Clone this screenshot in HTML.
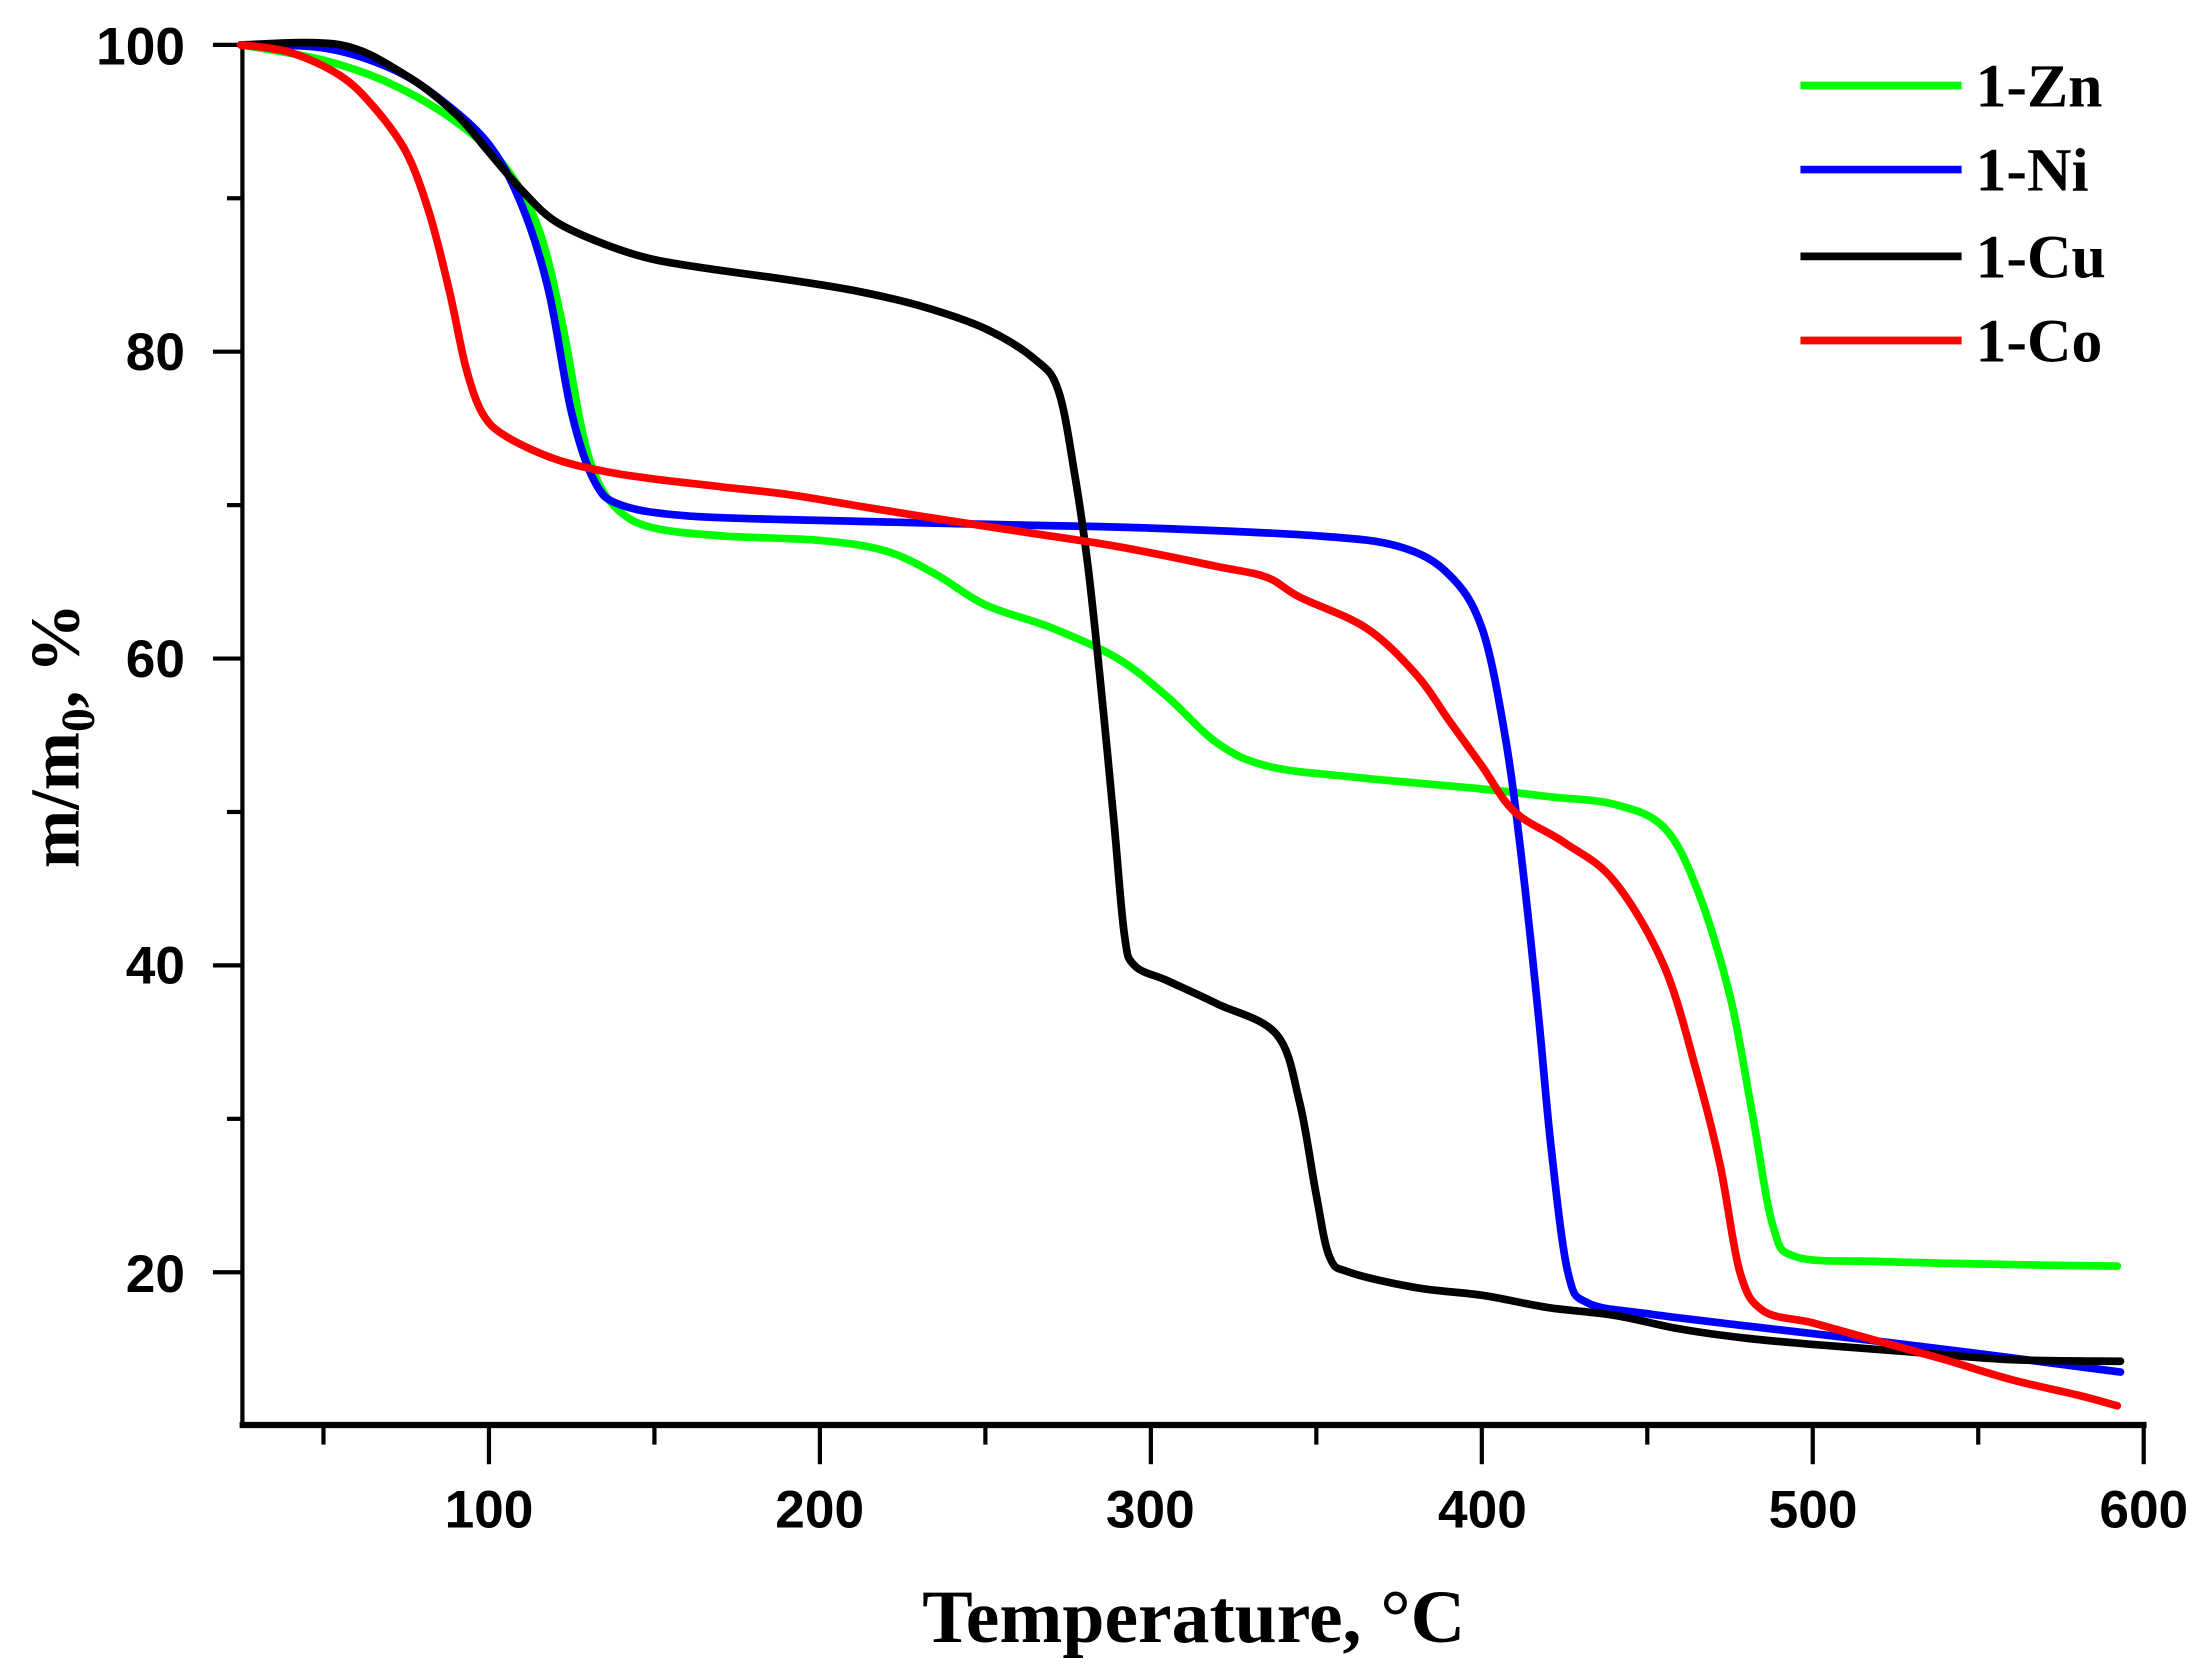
<!DOCTYPE html>
<html><head><meta charset="utf-8"><style>
html,body{margin:0;padding:0;background:#fff}
svg{display:block}
</style></head><body>
<svg id="s" width="2197" height="1673" viewBox="0 0 1568 1194" preserveAspectRatio="none" xmlns="http://www.w3.org/2000/svg">
<g id="axes" stroke="#000" stroke-width="3" fill="none">
<line x1="173" y1="30" x2="173" y2="1018"/>
<line x1="171" y1="1017" x2="1532" y2="1017" stroke-width="4.5"/>
</g>
<g id="ticks" stroke="#000" stroke-width="3"></g>
<g font-family="Liberation Sans, Arial, sans-serif" font-weight="bold" font-size="38" fill="#000">
<text x="132" y="46" text-anchor="end">100</text>
<text x="132" y="264" text-anchor="end">80</text>
<text x="132" y="483" text-anchor="end">60</text>
<text x="132" y="702" text-anchor="end">40</text>
<text x="132" y="922" text-anchor="end">20</text>
<text x="349" y="1090" text-anchor="middle">100</text>
<text x="585" y="1090" text-anchor="middle">200</text>
<text x="821" y="1090" text-anchor="middle">300</text>
<text x="1058" y="1090" text-anchor="middle">400</text>
<text x="1294" y="1090" text-anchor="middle">500</text>
<text x="1530" y="1090" text-anchor="middle">600</text>
</g>
<text x="852" y="1172" text-anchor="middle" font-family="Liberation Serif, Times New Roman, serif" font-weight="bold" font-size="54">Temperature, °C</text>
<text transform="translate(56,525) rotate(-90)" text-anchor="middle" font-family="Liberation Serif, Times New Roman, serif" font-weight="bold" font-size="50">m/m<tspan font-size="34" dy="11">0</tspan><tspan dy="-11">, %</tspan></text>
<g id="curves" fill="none" stroke-width="5.5" stroke-linejoin="round" stroke-linecap="round"></g>
<g stroke-width="5.5">
<line x1="1285" y1="61" x2="1400" y2="61" stroke="#00ff00"/>
<line x1="1285" y1="121" x2="1400" y2="121" stroke="#0000ff"/>
<line x1="1285" y1="183" x2="1400" y2="183" stroke="#000"/>
<line x1="1285" y1="243" x2="1400" y2="243" stroke="#ff0000"/>
</g>
<g font-family="Liberation Serif, Times New Roman, serif" font-weight="bold" font-size="44" fill="#000">
<text x="1410" y="76">1-Zn</text>
<text x="1410" y="136">1-Ni</text>
<text x="1410" y="198">1-Cu</text>
<text x="1410" y="258">1-Co</text>
</g>
</svg>
<script>
var NS="http://www.w3.org/2000/svg";
function X(t){return 173+(t-25.5)*2.362}
function Y(v){return 32+(100-v)*10.95}
var tk=document.getElementById("ticks");
function ln(x1,y1,x2,y2){var l=document.createElementNS(NS,"line");l.setAttribute("x1",x1);l.setAttribute("y1",y1);l.setAttribute("x2",x2);l.setAttribute("y2",y2);tk.appendChild(l);}
for(var v=20;v<=100;v+=20){ln(152,Y(v),173,Y(v));}
for(var v=30;v<=90;v+=20){ln(162,Y(v),173,Y(v));}
for(var t=100;t<=600;t+=100){ln(X(t),1017,X(t),1045);}
for(var t=50;t<=550;t+=100){ln(X(t),1017,X(t),1031);}
var data={
"#00ff00":[[25,100],[50,99],[70,97.5],[90,95],[105,92],[115,88],[122,82],[128,75],[133,71.5],[140,69.5],[150,68.5],[170,68],[200,67.7],[220,67],[235,65.5],[250,63.5],[270,62],[290,60],[305,57.5],[320,54.5],[335,53],[360,52.3],[400,51.5],[420,51],[440,50.5],[455,49],[465,45],[475,38],[482,30],[488,23],[495,21],[520,20.7],[560,20.5],[592,20.4]],
"#0000ff":[[25,100],[50,99.8],[70,98.5],[85,96.5],[100,93.5],[110,89.5],[118,84],[125,76],[132,71.5],[140,70],[160,69.3],[200,69],[260,68.7],[300,68.5],[350,68],[375,67.3],[390,65.5],[400,62],[407,55],[412,47],[417,37],[421,28],[426,20],[432,18],[450,17.3],[480,16.5],[520,15.5],[550,14.7],[593,13.5]],
"#000000":[[25,100],[55,100],[75,98],[90,95.5],[100,93],[110,90.5],[120,88.5],[135,87],[150,86],[170,85.3],[190,84.7],[210,84],[230,83],[250,81.5],[265,79.5],[272,77.5],[277,72],[281,66],[285,58],[289,49],[292,42],[295,40],[305,39],[320,37.5],[338,35.5],[345,31],[350,25],[354,21],[360,20],[380,19],[400,18.5],[420,17.7],[440,17.2],[460,16.3],[480,15.7],[500,15.3],[530,14.8],[560,14.3],[593,14.2]],
"#ff0000":[[25,100],[40,99.5],[55,98],[65,96],[75,93],[82,89],[88,84],[93,79],[98,76],[105,74.5],[120,73],[135,72.2],[150,71.7],[170,71.2],[190,70.7],[210,70],[230,69.3],[260,68.3],[290,67.3],[320,66],[335,65.3],[345,64],[365,62],[380,59],[390,56],[400,53],[410,50],[425,48],[440,45.5],[455,40],[465,33],[472,27],[478,20],[485,17.5],[500,16.7],[520,15.5],[540,14.3],[560,13],[580,12],[592,11.3]]
};
var g=document.getElementById("curves");
for(var c in data){
 var P=data[c].map(function(d){return [X(d[0]),Y(d[1])]});
 var s="M"+P[0][0].toFixed(1)+","+P[0][1].toFixed(1);
 for(var i=0;i<P.length-1;i++){
  var p0=P[i-1]||P[i],p1=P[i],p2=P[i+1],p3=P[i+2]||P[i+1];
  var c1=[p1[0]+(p2[0]-p0[0])/6,p1[1]+(p2[1]-p0[1])/6];
  var c2=[p2[0]-(p3[0]-p1[0])/6,p2[1]-(p3[1]-p1[1])/6];
  s+=" C"+c1[0].toFixed(1)+","+c1[1].toFixed(1)+" "+c2[0].toFixed(1)+","+c2[1].toFixed(1)+" "+p2[0].toFixed(1)+","+p2[1].toFixed(1);
 }
 var p=document.createElementNS(NS,"path");
 p.setAttribute("d",s);p.setAttribute("stroke",c);g.appendChild(p);
}
</script>
</body></html>
